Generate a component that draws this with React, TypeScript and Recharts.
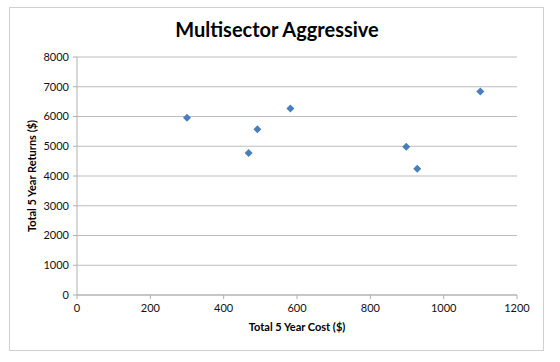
import { CartesianGrid, Scatter, ScatterChart, XAxis, YAxis } from 'recharts'

const costs = [300, 468, 492, 582, 898, 928, 1100]
const returns = [5960, 4770, 5570, 6270, 4980, 4240, 6840]
const xTicks = [0, 200, 400, 600, 800, 1000, 1200]
const yTicks = [0, 1000, 2000, 3000, 4000, 5000, 6000, 7000, 8000]

const font = 'Lato, "Open Sans", sans-serif'

const Diamond = (props: any) => {
  const { cx, cy } = props
  const r = 4
  return (
    <path
      d={`M${cx},${cy - r}L${cx + r},${cy}L${cx},${cy + r}L${cx - r},${cy}Z`}
      fill="#4a7ebb"
    />
  )
}

export default function App() {
  const data = costs.map((c, i) => ({ cost: c, ret: returns[i] }))
  const tick = { fill: '#111', fontSize: 11, fontFamily: font }

  return (
    <div
      style={{
        position: 'absolute',
        left: 0,
        top: 0,
        width: 560,
        height: 362,
        background: '#fff',
      }}
    >
      <div
        style={{
          position: 'absolute',
          left: 9,
          top: 7,
          width: 533,
          height: 342,
          border: '1px solid #d0d0d0',
        }}
      />
      <div
        style={{
          position: 'absolute',
          left: 0,
          width: 554,
          top: 17,
          textAlign: 'center',
          fontFamily: font,
          fontWeight: 700,
          fontSize: 20,
          color: '#000',
        }}
      >
        Multisector Aggressive
      </div>
      <ScatterChart
        width={560}
        height={362}
        margin={{ top: 57, right: 43, bottom: 0, left: 0 }}
        style={{ position: 'absolute', left: 0, top: 0 }}
      >
        <CartesianGrid vertical={false} stroke="#bdbdbd" />
        <XAxis
          type="number"
          dataKey="cost"
          domain={[0, 1200]}
          ticks={xTicks}
          height={67}
          tick={tick}
          stroke="#b0b0b0"
          tickSize={4}
          tickMargin={5}
        />
        <YAxis
          type="number"
          dataKey="ret"
          domain={[0, 8000]}
          ticks={yTicks}
          width={77}
          tick={tick}
          stroke="#b0b0b0"
          tickSize={4}
          tickMargin={4}
        />
        <Scatter data={data} shape={Diamond} isAnimationActive={false} />
      </ScatterChart>
      <div
        style={{
          position: 'absolute',
          left: 77,
          width: 440,
          top: 320,
          textAlign: 'center',
          fontFamily: font,
          fontWeight: 700,
          fontSize: 11,
          color: '#000',
        }}
      >
        Total 5 Year Cost ($)
      </div>
      <div
        style={{
          position: 'absolute',
          left: 31,
          top: 176,
          transform: 'translate(-50%, -50%) rotate(-90deg)',
          whiteSpace: 'nowrap',
          fontFamily: font,
          fontWeight: 700,
          fontSize: 11,
          color: '#000',
        }}
      >
        Total 5 Year Returns ($)
      </div>
    </div>
  )
}
